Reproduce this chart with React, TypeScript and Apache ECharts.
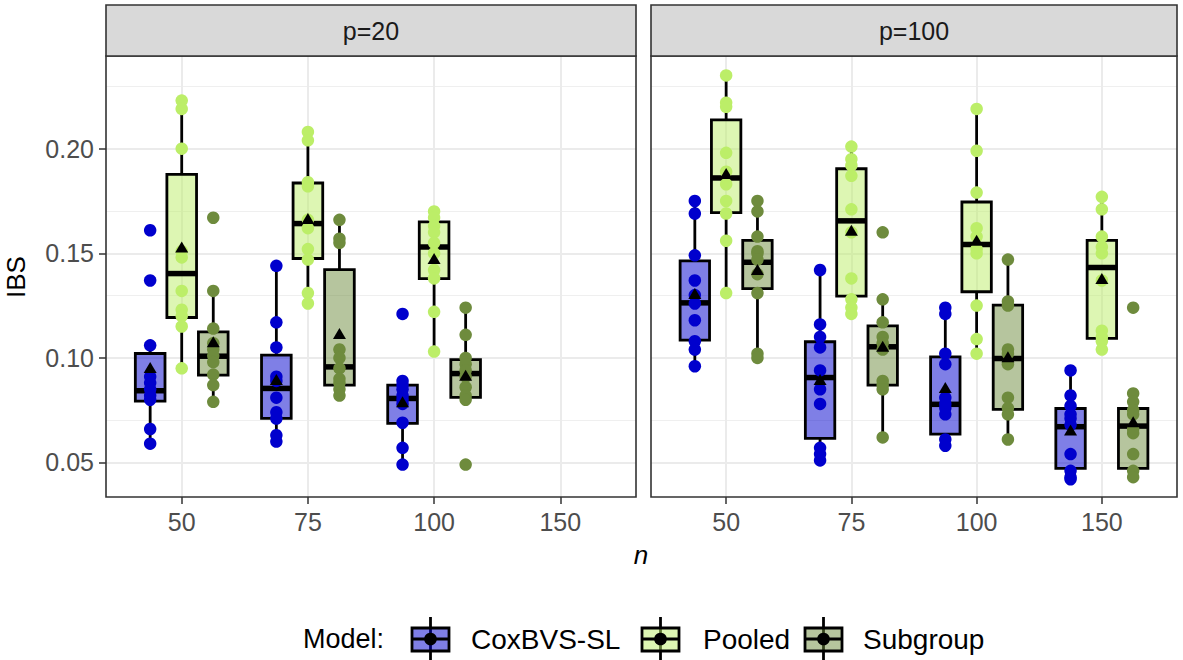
import React, { useEffect, useRef } from "react";
import * as echarts from "echarts";

// ---------- data ----------
const nLabels = ["50", "75", "100", "150"];
const modelNames = ["CoxBVS-SL", "Pooled", "Subgroup"];
const panelLabels = ["p=20", "p=100"];
const yTicks = [0.05, 0.1, 0.15, 0.2];
const yMinor = [0.075, 0.125, 0.175, 0.225];
const xTicks = [1, 2, 3, 4];

// box stats per n: [lower whisker, Q1, median, Q3, upper whisker]
// p = 20 (n = 50, 75, 100)
const p20CoxBox = [
  [0.0594, 0.0793, 0.0843, 0.1021, 0.1064],
  [0.0599, 0.0711, 0.0854, 0.1013, 0.1443],
  [0.0488, 0.0687, 0.0806, 0.087, 0.0894],
];
const p20CoxMean = [0.0954, 0.0897, 0.079];
const p20CoxPts = [
  [0.161, 0.137, 0.106, 0.091, 0.088, 0.085, 0.082, 0.08, 0.066, 0.059],
  [0.144, 0.117, 0.105, 0.091, 0.089, 0.081, 0.074, 0.071, 0.063, 0.06],
  [0.121, 0.089, 0.087, 0.085, 0.082, 0.08, 0.078, 0.069, 0.057, 0.049],
];
const p20PoolBox = [
  [0.0949, 0.1193, 0.1403, 0.1877, 0.2234],
  [0.1257, 0.1475, 0.1642, 0.1836, 0.208],
  [0.1021, 0.1379, 0.153, 0.165, 0.1706],
];
const p20PoolMean = [0.153, 0.1666, 0.1475];
const p20PoolPts = [
  [0.223, 0.219, 0.2, 0.151, 0.148, 0.132, 0.123, 0.12, 0.115, 0.095],
  [0.208, 0.204, 0.184, 0.182, 0.166, 0.162, 0.152, 0.147, 0.131, 0.126],
  [0.17, 0.167, 0.163, 0.16, 0.155, 0.15, 0.142, 0.138, 0.122, 0.103],
];
const p20SubBox = [
  [0.079, 0.0918, 0.1008, 0.1124, 0.1319],
  [0.0822, 0.087, 0.0957, 0.1422, 0.1661],
  [0.079, 0.0811, 0.0925, 0.0992, 0.1236],
];
const p20SubMean = [0.1077, 0.1117, 0.0917];
const p20SubPts = [
  [0.167, 0.132, 0.114, 0.107, 0.104, 0.101, 0.098, 0.092, 0.087, 0.079],
  [0.166, 0.157, 0.155, 0.104, 0.1, 0.095, 0.09, 0.088, 0.085, 0.082],
  [0.124, 0.111, 0.1, 0.097, 0.094, 0.091, 0.086, 0.082, 0.08, 0.049],
];

// p = 100 (n = 50, 75, 100, 150)
const p100CoxBox = [
  [0.0957, 0.1085, 0.1263, 0.1464, 0.1753],
  [0.0512, 0.0615, 0.0906, 0.1077, 0.1416],
  [0.0583, 0.0636, 0.0778, 0.1005, 0.1236],
  [0.0413, 0.0472, 0.0671, 0.0758, 0.0937],
];
const p100CoxMean = [0.1308, 0.0897, 0.0859, 0.0655];
const p100CoxPts = [
  [0.175, 0.169, 0.149, 0.137, 0.13, 0.126, 0.118, 0.108, 0.104, 0.096],
  [0.142, 0.116, 0.11, 0.105, 0.094, 0.085, 0.078, 0.057, 0.054, 0.051],
  [0.124, 0.121, 0.102, 0.097, 0.081, 0.078, 0.076, 0.073, 0.061, 0.058],
  [0.094, 0.082, 0.077, 0.073, 0.071, 0.068, 0.054, 0.046, 0.043, 0.042],
];
const p100PoolBox = [
  [0.1308, 0.1694, 0.186, 0.2138, 0.235],
  [0.1204, 0.1295, 0.1655, 0.1904, 0.2008],
  [0.1021, 0.1316, 0.1542, 0.1745, 0.2186],
  [0.1037, 0.1093, 0.1432, 0.1562, 0.1772],
];
const p100PoolMean = [0.1881, 0.161, 0.1562, 0.1379];
const p100PoolPts = [
  [0.235, 0.222, 0.22, 0.198, 0.189, 0.183, 0.175, 0.169, 0.156, 0.131],
  [0.201, 0.195, 0.192, 0.187, 0.171, 0.16, 0.138, 0.128, 0.124, 0.121],
  [0.219, 0.199, 0.179, 0.162, 0.158, 0.152, 0.15, 0.125, 0.109, 0.102],
  [0.177, 0.171, 0.158, 0.153, 0.15, 0.137, 0.113, 0.11, 0.108, 0.104],
];
const p100SubBox = [
  [0.1005, 0.1331, 0.1457, 0.1562, 0.175],
  [0.0615, 0.087, 0.1053, 0.1153, 0.1284],
  [0.0607, 0.0754, 0.0997, 0.1252, 0.1467],
  [0.0424, 0.0472, 0.0674, 0.0758, 0.083],
];
const p100SubMean = [0.1422, 0.1056, 0.1005, 0.0695];
const p100SubPts = [
  [0.175, 0.17, 0.158, 0.151, 0.15, 0.147, 0.14, 0.131, 0.102, 0.1],
  [0.16, 0.128, 0.117, 0.11, 0.107, 0.104, 0.089, 0.087, 0.085, 0.062],
  [0.147, 0.127, 0.125, 0.104, 0.102, 0.097, 0.081, 0.076, 0.073, 0.061],
  [0.124, 0.083, 0.079, 0.075, 0.073, 0.066, 0.064, 0.054, 0.046, 0.043],
];

// ---------- styling ----------
const FONT = "'Liberation Sans', Arial, Helvetica, sans-serif";
const pointColors = ["#0000CD", "#BCEE68", "#6E8B3D"];
const fillColors = ["rgba(0,0,205,0.5)", "rgba(188,238,104,0.5)", "rgba(110,139,61,0.5)"];
const OFFSETS = [-0.25, 0, 0.25];
const BOX_W = 0.235;
const Y_MIN = 0.0335;
const Y_MAX = 0.2443;
const TICK_FS = 25;
const GRIDS = [
  { left: 106, top: 56, width: 530, height: 441 },
  { left: 651, top: 56, width: 526, height: 441 },
];

const panelData = [
  {
    boxes: [p20CoxBox, p20PoolBox, p20SubBox],
    means: [p20CoxMean, p20PoolMean, p20SubMean],
    pts: [p20CoxPts, p20PoolPts, p20SubPts],
  },
  {
    boxes: [p100CoxBox, p100PoolBox, p100SubBox],
    means: [p100CoxMean, p100PoolMean, p100SubMean],
    pts: [p100CoxPts, p100PoolPts, p100SubPts],
  },
];

function buildOption() {
  const series: any[] = [];
  const xAxes: any[] = [];
  const yAxes: any[] = [];
  const graphics: any[] = [];

  GRIDS.forEach((g, gi) => {
    xAxes.push({
      gridIndex: gi,
      type: "value",
      min: 0.4,
      max: 4.6,
      axisLine: { show: false },
      splitLine: { show: false },
      axisTick: { show: true, length: 7, lineStyle: { color: "#333", width: 1.5 }, customValues: xTicks },
      axisLabel: {
        customValues: xTicks,
        formatter: (v: number) => nLabels[Math.round(v) - 1],
        fontSize: TICK_FS,
        color: "#4D4D4D",
        fontFamily: FONT,
        margin: 12,
      },
    });
    yAxes.push({
      gridIndex: gi,
      type: "value",
      min: Y_MIN,
      max: Y_MAX,
      axisLine: { show: false },
      splitLine: { show: false },
      axisTick: { show: gi === 0, length: 7, lineStyle: { color: "#333", width: 1.5 }, customValues: yTicks },
      axisLabel: {
        show: gi === 0,
        customValues: yTicks,
        formatter: (v: number) => v.toFixed(2),
        fontSize: TICK_FS,
        color: "#4D4D4D",
        fontFamily: FONT,
        margin: 12,
      },
    });

    // grid lines (kept underneath every mark)
    series.push({
      type: "scatter",
      xAxisIndex: gi,
      yAxisIndex: gi,
      data: [],
      silent: true,
      z: 0,
      markLine: {
        silent: true,
        z: 0,
        animation: false,
        symbol: ["none", "none"],
        label: { show: false },
        emphasis: { disabled: true },
        data: [
          ...yMinor.map((v) => ({ yAxis: v, lineStyle: { color: "#EFEFEF", width: 1, type: "solid" } })),
          ...yTicks.map((v) => ({ yAxis: v, lineStyle: { color: "#EBEBEB", width: 2, type: "solid" } })),
          ...xTicks.map((v) => ({ xAxis: v, lineStyle: { color: "#EBEBEB", width: 2, type: "solid" } })),
        ],
      },
    });

    const pd = panelData[gi];
    for (let m = 0; m < 3; m++) {
      const boxes = pd.boxes[m].map((b, i) => [i + 1 + OFFSETS[m], ...b]);
      series.push({
        type: "custom",
        name: modelNames[m],
        xAxisIndex: gi,
        yAxisIndex: gi,
        z: 10,
        silent: true,
        encode: { x: 0, y: [1, 2, 3, 4, 5] },
        data: boxes,
        renderItem: (params: any, api: any) => {
          const x = api.value(0);
          const pLo = api.coord([x, api.value(1)]);
          const pQ1 = api.coord([x, api.value(2)]);
          const pMed = api.coord([x, api.value(3)]);
          const pQ3 = api.coord([x, api.value(4)]);
          const pHi = api.coord([x, api.value(5)]);
          const w = api.size([BOX_W, 0])[0];
          const cx = pLo[0];
          const lw = 2.8;
          return {
            type: "group",
            children: [
              { type: "line", shape: { x1: cx, y1: pHi[1], x2: cx, y2: pQ3[1] }, style: { stroke: "#000", lineWidth: lw } },
              { type: "line", shape: { x1: cx, y1: pQ1[1], x2: cx, y2: pLo[1] }, style: { stroke: "#000", lineWidth: lw } },
              {
                type: "rect",
                shape: { x: cx - w / 2, y: pQ3[1], width: w, height: pQ1[1] - pQ3[1] },
                style: { fill: fillColors[m], stroke: "#000", lineWidth: lw },
              },
              {
                type: "line",
                shape: { x1: cx - w / 2, y1: pMed[1], x2: cx + w / 2, y2: pMed[1] },
                style: { stroke: "#000", lineWidth: 5.5 },
              },
            ],
          };
        },
      });
    }
    for (let m = 0; m < 3; m++) {
      const pts: number[][] = [];
      pd.pts[m].forEach((arr, i) => arr.forEach((v) => pts.push([i + 1 + OFFSETS[m], v])));
      series.push({
        type: "scatter",
        xAxisIndex: gi,
        yAxisIndex: gi,
        z: 11,
        silent: true,
        symbol: "circle",
        symbolSize: 12.5,
        itemStyle: { color: pointColors[m], opacity: 1 },
        data: pts,
      });
    }
    for (let m = 0; m < 3; m++) {
      series.push({
        type: "scatter",
        xAxisIndex: gi,
        yAxisIndex: gi,
        z: 12,
        silent: true,
        symbol: "triangle",
        symbolSize: [13, 11],
        itemStyle: { color: "#000", opacity: 1 },
        data: pd.means[m].map((v, i) => [i + 1 + OFFSETS[m], v]),
      });
    }

    // panel border (on top) and strip
    graphics.push({
      type: "rect",
      z: 100,
      silent: true,
      shape: { x: g.left, y: g.top, width: g.width, height: g.height },
      style: { fill: "none", stroke: "#333", lineWidth: 1.6 },
    });
    graphics.push({
      type: "rect",
      z: 100,
      silent: true,
      shape: { x: g.left, y: 5, width: g.width, height: g.top - 5 },
      style: { fill: "#D9D9D9", stroke: "#333", lineWidth: 1.6 },
    });
    graphics.push({
      type: "text",
      z: 101,
      silent: true,
      x: g.left + g.width / 2,
      y: (5 + g.top) / 2,
      style: {
        text: panelLabels[gi],
        fontSize: TICK_FS,
        fontFamily: FONT,
        fill: "#1A1A1A",
        align: "center",
        verticalAlign: "middle",
      },
    });
  });

  // axis titles
  graphics.push({
    type: "text",
    silent: true,
    x: 16,
    y: 277,
    rotation: Math.PI / 2,
    style: { text: "IBS", fontSize: 26, fontFamily: FONT, fill: "#000", align: "center", verticalAlign: "middle" },
  });
  graphics.push({
    type: "text",
    silent: true,
    x: 641,
    y: 555,
    style: {
      text: "n",
      fontSize: 26,
      fontStyle: "italic",
      fontFamily: FONT,
      fill: "#000",
      align: "center",
      verticalAlign: "middle",
    },
  });

  // legend
  const LY = 639;
  graphics.push({
    type: "text",
    silent: true,
    x: 303,
    y: LY,
    style: { text: "Model:", fontSize: 27, fontFamily: FONT, fill: "#000", align: "left", verticalAlign: "middle" },
  });
  const keyX = [412, 642, 805];
  const labelX = [471, 703, 863];
  for (let m = 0; m < 3; m++) {
    const kx = keyX[m];
    const kw = 37;
    const cx = kx + kw / 2;
    graphics.push({ type: "line", silent: true, shape: { x1: cx, y1: 617, x2: cx, y2: 661 }, style: { stroke: "#000", lineWidth: 2.8 } });
    graphics.push({
      type: "rect",
      silent: true,
      shape: { x: kx, y: 628, width: kw, height: 23 },
      style: { fill: fillColors[m], stroke: "#000", lineWidth: 2.8 },
    });
    graphics.push({ type: "line", silent: true, shape: { x1: kx, y1: LY, x2: kx + kw, y2: LY }, style: { stroke: "#000", lineWidth: 2.8 } });
    graphics.push({ type: "circle", silent: true, shape: { cx, cy: LY, r: 6.3 }, style: { fill: "#000" } });
    graphics.push({
      type: "text",
      silent: true,
      x: labelX[m],
      y: LY,
      style: { text: modelNames[m], fontSize: 28, fontFamily: FONT, fill: "#000", align: "left", verticalAlign: "middle" },
    });
  }

  return {
    animation: false,
    backgroundColor: "#FFFFFF",
    grid: GRIDS.map((g) => ({ ...g, containLabel: false })),
    xAxis: xAxes,
    yAxis: yAxes,
    series,
    graphic: graphics,
  };
}

export default function App() {
  const ref = useRef<HTMLDivElement>(null);
  useEffect(() => {
    document.body.style.margin = "0";
    if (!ref.current) return;
    const chart = echarts.init(ref.current, undefined, { renderer: "svg" });
    chart.setOption(buildOption() as any);
    return () => chart.dispose();
  }, []);
  return (
    <div
      ref={ref}
      style={{ position: "absolute", left: 0, top: 0, width: 1183, height: 660, background: "#fff" }}
    />
  );
}
